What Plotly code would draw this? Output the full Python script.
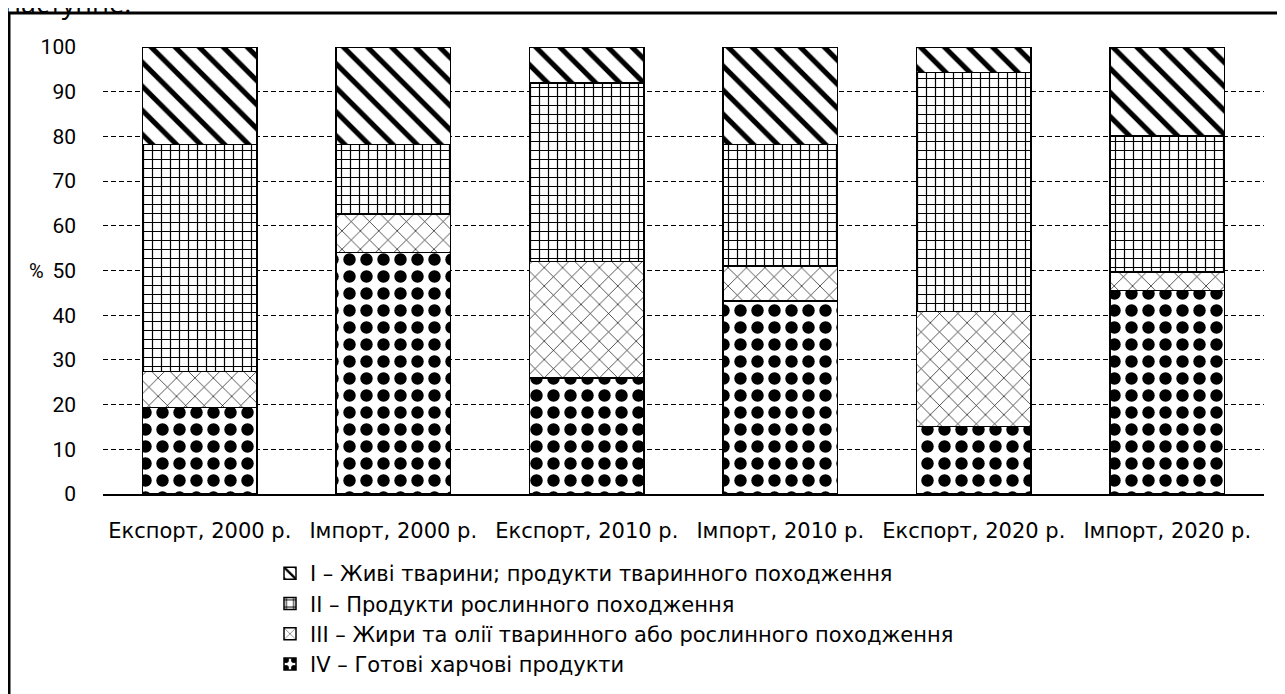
import plotly.graph_objects as go

categories = ["Експорт, 2000 р.", "Імпорт, 2000 р.", "Експорт, 2010 р.",
              "Імпорт, 2010 р.", "Експорт, 2020 р.", "Імпорт, 2020 р."]
s4_ready_food = [19.3, 54.0, 25.9, 43.2, 15.1, 45.5]
s3_fats_oils = [8.1, 8.6, 26.1, 7.8, 25.7, 4.2]
s2_plant = [50.8, 15.6, 39.9, 27.2, 53.5, 30.4]
s1_animals = [21.8, 21.8, 8.1, 21.8, 5.7, 19.9]
names = ["IV – Готові харчові продукти",
         "III – Жири та олії тваринного або рослинного походження",
         "II – Продукти рослинного походження",
         "I – Живі тварини; продукти тваринного походження"]
y_ticks = [0, 10, 20, 30, 40, 50, 60, 70, 80, 90, 100]

series = [s4_ready_food, s3_fats_oils, s2_plant, s1_animals]
patterns = [
    dict(shape=".", size=17, solidity=0.42),
    dict(shape="x", size=13, solidity=0.1),
    dict(shape="+", size=9, solidity=0.25),
    dict(shape="\\", size=17, solidity=0.3),
]

fig = go.Figure()
for vals, nm, pat in zip(series, names, patterns):
    fig.add_trace(go.Bar(
        x=categories, y=vals, name=nm,
        marker=dict(color="white", line=dict(color="black", width=1.5),
                    pattern=dict(fgcolor="black", bgcolor="white",
                                 fillmode="replace", **pat)),
    ))

W, H = 1277, 686
L, R, T, B = 95, 21, 39, 200
pw, ph = W - L - R, H - T - B


def px(x):
    return (x - L) / pw


def py(y):
    return (H - B - y) / ph


fig.update_layout(
    width=W, height=H,
    margin=dict(l=L, r=R, t=T, b=B, autoexpand=False),
    barmode="stack", bargap=0.41,
    plot_bgcolor="white", paper_bgcolor="white",
    font=dict(family="DejaVu Sans", size=21, color="black"),
    showlegend=True,
    legend=dict(x=px(262), y=py(545), xanchor="left", yanchor="top",
                traceorder="reversed",
                font=dict(family="DejaVu Sans", size=21),
                bgcolor="rgba(0,0,0,0)"),
    xaxis=dict(showline=True, linecolor="black", linewidth=1.5,
               ticks="", ticklabelstandoff=17, automargin=False,
               tickfont=dict(family="DejaVu Sans", size=21)),
    yaxis=dict(range=[0, 100], tickvals=y_ticks, showgrid=True,
               gridcolor="black", gridwidth=1.4, griddash="5px,3px",
               zeroline=False, showline=False, ticks="", automargin=False,
               ticklabelstandoff=26,
               tickfont=dict(family="Roboto", size=21)),
    shapes=[
        dict(type="line", xref="paper", yref="paper",
             x0=px(0), x1=px(1290), y0=py(5), y1=py(5),
             line=dict(color="black", width=3)),
        dict(type="line", xref="paper", yref="paper",
             x0=px(1), x1=px(1), y0=py(5), y1=py(700),
             line=dict(color="black", width=3)),
    ],
    annotations=[
        dict(text="%", xref="paper", yref="y", x=px(19), y=50,
             showarrow=False, font=dict(family="Roboto", size=20)),
        dict(text="наступне:", xref="paper", yref="paper", x=px(-6), y=py(15),
             xanchor="left", yanchor="bottom", showarrow=False,
             font=dict(family="Open Sans", size=27)),
    ],
)

fig.write_html("out.html")
